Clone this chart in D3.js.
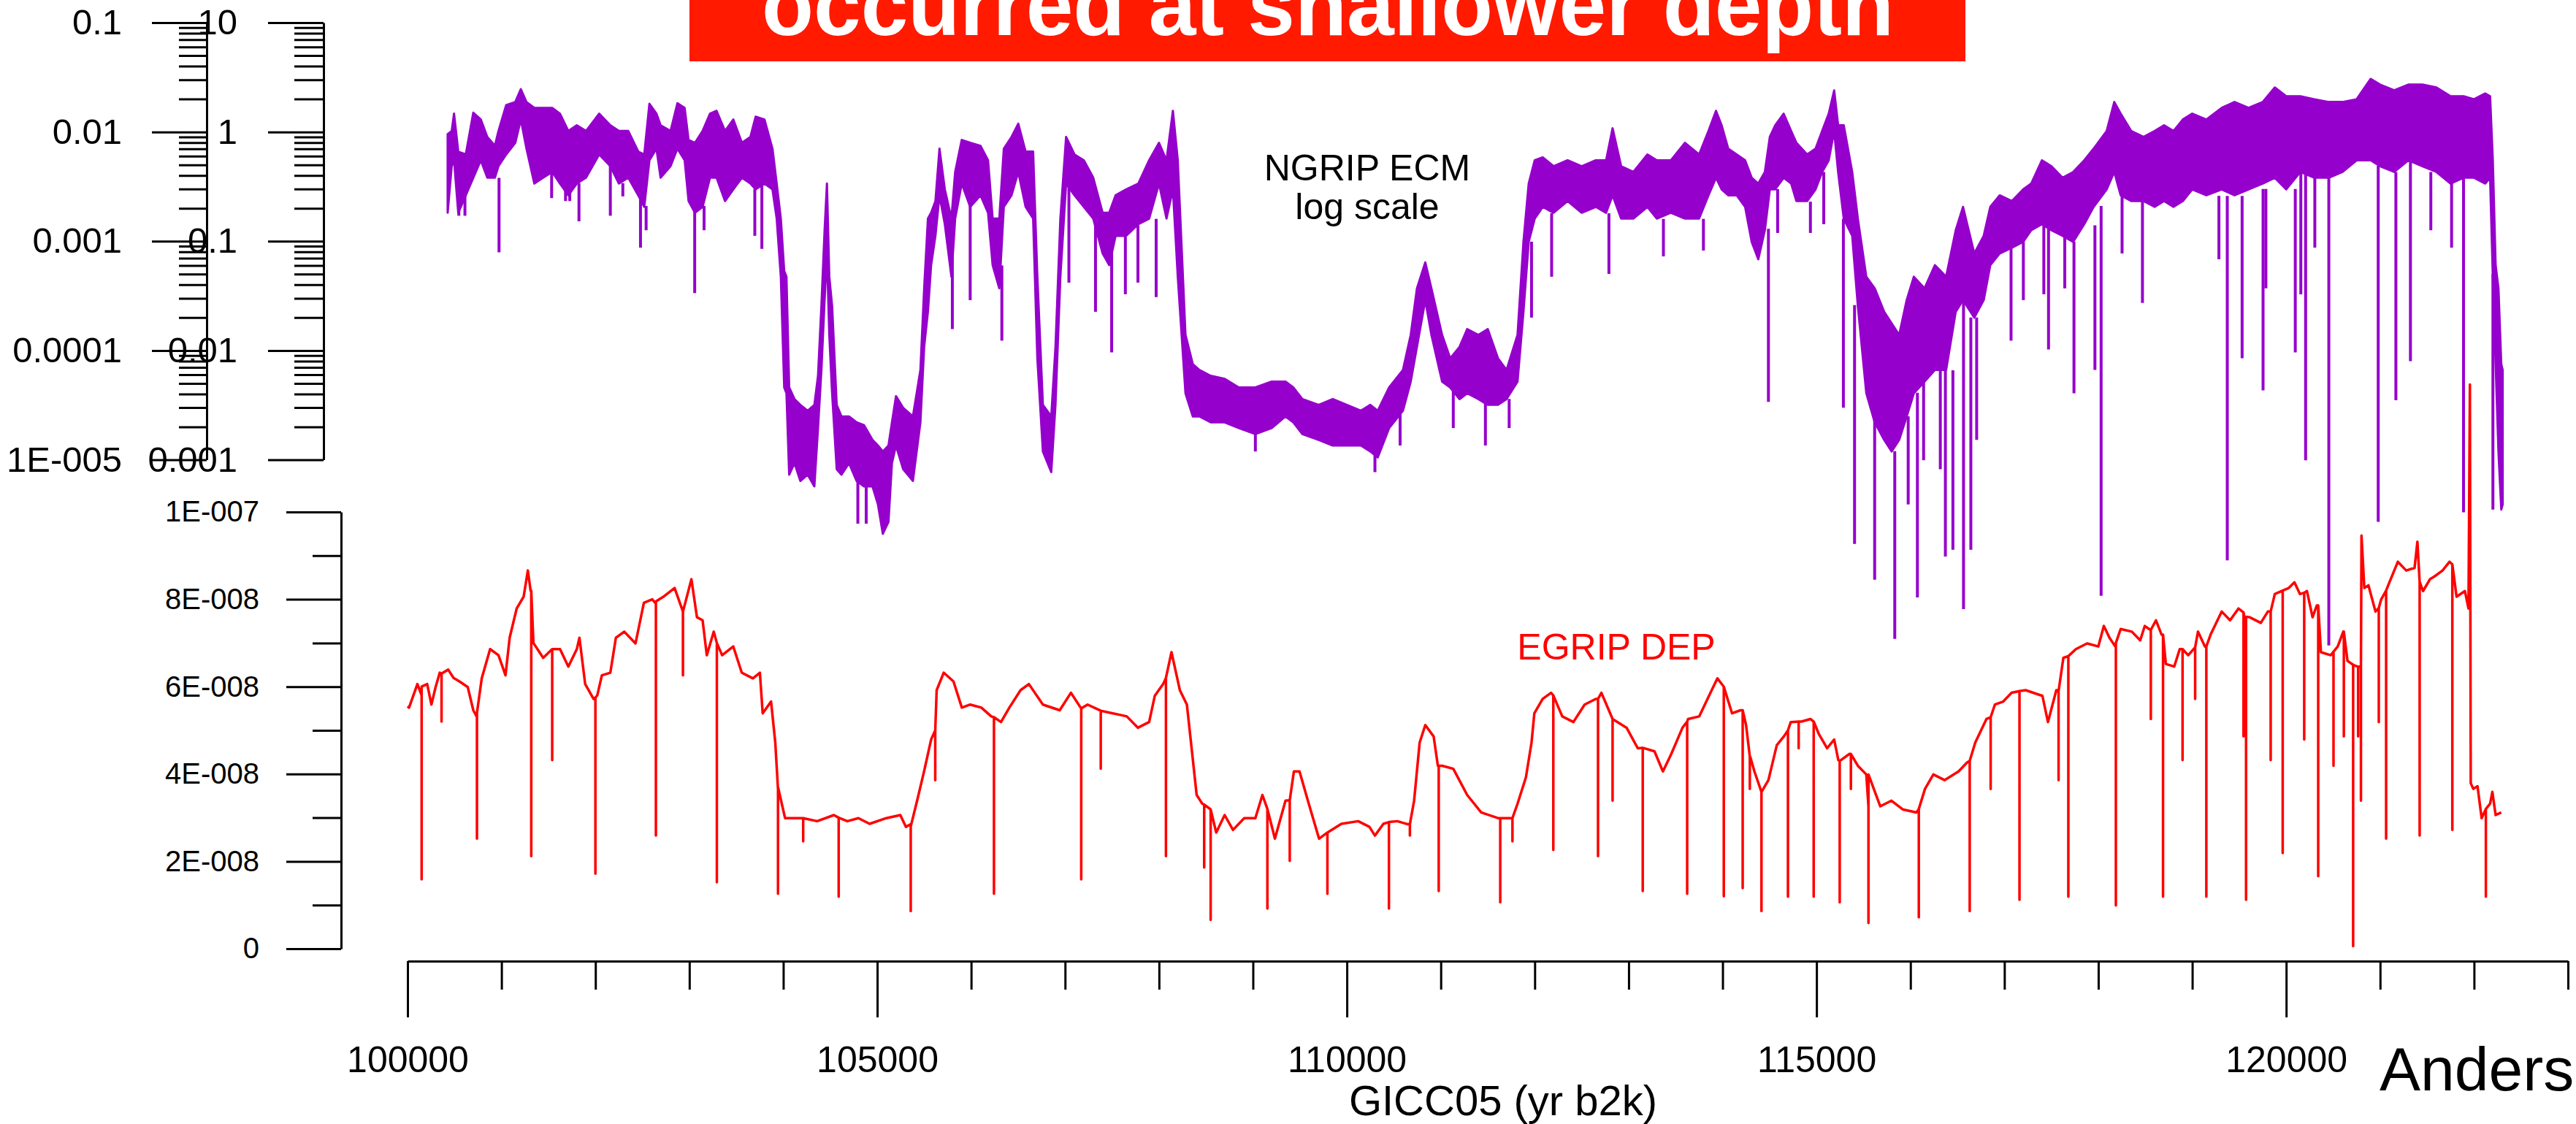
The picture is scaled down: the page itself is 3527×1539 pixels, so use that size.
<!DOCTYPE html>
<html>
<head>
<meta charset="utf-8">
<script src="https://cdn.jsdelivr.net/npm/d3@7/dist/d3.min.js"></script>
<style>
html,body{margin:0;padding:0;background:#fff;overflow:hidden}
svg{display:block}
text{font-family:"Liberation Sans",Arial,Helvetica,sans-serif}
</style>
</head>
<body>
<svg id="chart" width="3527" height="1539"></svg>
<script>
// ---------------- DATA ----------------
// x axis (GICC05, yr b2k)
const xMajorTicks = [100000, 105000, 110000, 115000, 120000];
const xTickLabels = ["100000", "105000", "110000", "115000", "120000"];

// NGRIP ECM log axes (two stacked label sets)
const ecmLeftTicks = [1e-5, 1e-4, 1e-3, 1e-2, 1e-1];
const ecmLeftLabels = ["1E-005", "0.0001", "0.001", "0.01", "0.1"];
const ecmRightTicks = [0.001, 0.01, 0.1, 1, 10];
const ecmRightLabels = ["0.001", "0.01", "0.1", "1", "10"];

// EGRIP DEP axis
const depTicks = [0, 2e-8, 4e-8, 6e-8, 8e-8, 1e-7];
const depTickLabels = ["0", "2E-008", "4E-008", "6E-008", "8E-008", "1E-007"];

// NGRIP ECM: [year, upper envelope, lower envelope] of the noisy record
const ecmBand = [
[100427,0.955,0.182],[100470,1.02,0.486],[100495,1.47,0.55],[100540,0.661,0.182],[100620,0.622,0.263],
[100700,1.50,0.381],[100780,1.30,0.55],[100849,0.90,0.381],[100930,0.747,0.381],[100968,1.02,0.486],
[101050,1.76,0.622],[101147,1.88,0.795],[101206,2.46,1.30],[101266,1.88,0.703],[101350,1.66,0.337],
[101444,1.66,0.381],[101540,1.66,0.43],[101623,1.47,0.337],[101712,1.02,0.263],[101802,1.15,0.337],
[101900,1.02,0.381],[102040,1.47,0.622],[102159,1.15,0.486],[102250,1.02,0.337],[102350,1.02,0.381],
[102456,0.661,0.263],[102520,0.622,0.206],[102575,1.81,0.55],[102650,1.47,0.703],[102694,1.15,0.381],
[102800,1.02,0.486],[102873,1.83,0.703],[102950,1.66,0.55],[102992,0.845,0.233],[103060,0.795,0.182],
[103141,1.02,0.206],[103220,1.47,0.381],[103290,1.56,0.381],[103380,1.02,0.233],[103468,1.30,0.298],
[103560,0.795,0.381],[103650,0.90,0.337],[103706,1.38,0.298],[103800,1.30,0.337],[103885,0.703,0.298],
[103930,0.337,0.161],[103974,0.161,0.0473],[104010,0.0534,0.00459],[104034,0.0473,0.00406],[104063,0.00459,0.00073],
[104120,0.00359,0.00093],[104182,0.00318,0.00064],[104260,0.00281,0.00073],[104331,0.00318,0.00057],[104370,0.00587,0.00195],
[104406,0.0256,0.00663],[104440,0.126,0.0289],[104465,0.337,0.0772],[104490,0.0473,0.0139],[104520,0.0256,0.00406],
[104569,0.00318,0.00082],[104620,0.00249,0.00073],[104700,0.00249,0.00093],[104780,0.00220,0.00064],[104860,0.00207,0.00057],
[104950,0.00152,0.00057],[105008,0.00135,0.00039],[105060,0.00119,0.00021],[105120,0.00135,0.00027],[105157,0.00220,0.00093],
[105200,0.00382,0.00135],[105276,0.00299,0.00082],[105380,0.00249,0.00064],[105460,0.00663,0.00220],[105500,0.037,0.0108],
[105540,0.161,0.0226],[105574,0.182,0.0604],[105620,0.233,0.112],[105663,0.703,0.263],[105720,0.298,0.143],
[105790,0.161,0.0473],[105830,0.43,0.161],[105900,0.845,0.337],[105990,0.795,0.206],[106100,0.747,0.263],
[106180,0.55,0.182],[106229,0.161,0.0604],[106300,0.161,0.037],[106348,0.703,0.206],[106430,0.90,0.263],
[106502,1.19,0.43],[106580,0.661,0.206],[106660,0.661,0.161],[106705,0.0473,0.00848],[106764,0.00318,0.00119],
[106853,0.00249,0.00077],[106898,0.0108,0.00318],[106950,0.161,0.0473],[107011,0.90,0.337],[107100,0.622,0.263],
[107200,0.55,0.206],[107300,0.381,0.161],[107400,0.182,0.0772],[107470,0.182,0.0604],[107538,0.263,0.112],
[107650,0.298,0.112],[107780,0.337,0.143],[107895,0.55,0.161],[108000,0.795,0.337],[108080,0.55,0.161],
[108148,1.56,0.298],[108200,0.55,0.0473],[108282,0.0139,0.00406],[108360,0.0075,0.00249],[108431,0.00663,0.00249],
[108550,0.00587,0.0022],[108700,0.0055,0.0022],[108850,0.00459,0.00195],[109026,0.00459,0.00172],[109200,0.00519,0.00195],
[109347,0.00519,0.00249],[109430,0.00459,0.0022],[109526,0.00359,0.00172],[109700,0.00318,0.00152],[109850,0.00359,0.00135],
[110000,0.00318,0.00135],[110150,0.00281,0.00135],[110250,0.00318,0.00119],[110329,0.00281,0.00105],[110450,0.00459,0.00195],
[110597,0.00663,0.00281],[110680,0.0139,0.00519],[110746,0.037,0.0108],[110835,0.064,0.0289],[110900,0.037,0.0139],
[111014,0.0139,0.00519],[111100,0.00848,0.00459],[111200,0.0108,0.00359],[111281,0.0157,0.00406],[111400,0.0139,0.00359],
[111500,0.0157,0.00318],[111609,0.00848,0.00318],[111700,0.00663,0.00359],[111817,0.0139,0.00519],[111880,0.0987,0.0226],
[111936,0.337,0.0987],[112000,0.55,0.161],[112085,0.585,0.206],[112200,0.486,0.182],[112350,0.55,0.233],
[112500,0.486,0.182],[112650,0.55,0.206],[112760,0.55,0.182],[112829,1.08,0.263],[112920,0.486,0.161],
[113050,0.43,0.161],[113200,0.622,0.206],[113300,0.55,0.161],[113450,0.55,0.182],[113600,0.795,0.161],
[113750,0.622,0.161],[113850,1.02,0.263],[113930,1.56,0.381],[113990,1.15,0.298],[114060,0.703,0.263],
[114150,0.622,0.263],[114240,0.55,0.206],[114310,0.381,0.0987],[114380,0.337,0.0683],[114450,0.43,0.126],
[114503,0.90,0.298],[114560,1.15,0.298],[114650,1.47,0.381],[114730,1.02,0.337],[114786,0.795,0.233],
[114900,0.622,0.233],[114990,0.703,0.298],[115060,1.02,0.43],[115130,1.47,0.55],[115188,2.40,1.02],
[115230,1.15,0.43],[115290,1.15,0.161],[115380,0.43,0.112],[115440,0.161,0.0256],[115530,0.0473,0.00406],
[115620,0.037,0.0022],[115720,0.0226,0.00152],[115800,0.0177,0.00119],[115880,0.0139,0.00152],[115960,0.0289,0.00249],
[116036,0.0473,0.00406],[116150,0.037,0.00519],[116260,0.0604,0.00663],[116380,0.0473,0.00663],[116482,0.126,0.0226],
[116560,0.206,0.0289],[116680,0.0772,0.02],[116780,0.112,0.0289],[116850,0.206,0.0604],[116950,0.263,0.0772],
[117080,0.233,0.0873],[117200,0.298,0.0987],[117286,0.337,0.126],[117400,0.55,0.143],[117500,0.486,0.126],
[117620,0.381,0.112],[117732,0.43,0.0987],[117850,0.55,0.143],[117950,0.703,0.206],[118089,1.02,0.298],
[118170,1.88,0.43],[118238,1.47,0.263],[118350,1.02,0.233],[118480,0.90,0.233],[118600,1.02,0.206],
[118700,1.15,0.233],[118800,1.02,0.206],[118900,1.30,0.233],[119000,1.47,0.298],[119150,1.30,0.263],
[119314,1.66,0.298],[119450,1.88,0.263],[119600,1.66,0.298],[119750,1.88,0.337],[119879,2.55,0.381],
[120000,2.12,0.298],[120150,2.12,0.43],[120300,1.99,0.381],[120454,1.88,0.381],[120600,1.88,0.43],
[120750,1.99,0.55],[120900,3.06,0.55],[121000,2.71,0.486],[121150,2.40,0.43],[121300,2.71,0.55],
[121450,2.71,0.486],[121600,2.55,0.43],[121750,2.12,0.337],[121888,2.12,0.381],[122000,1.99,0.381],
[122120,2.25,0.337],[122171,2.12,0.381],[122200,0.55,0.0473],[122230,0.0604,0.0075],[122260,0.037,0.00119],
[122290,0.0075,0.00035],[122305,0.00663,0.00039]
];

// NGRIP ECM downward spikes: [year, top, bottom]
const ecmSpikes = [
[100546,0.30,0.171],[100611,0.30,0.171],[100974,0.38,0.0791],[101534,0.43,0.248],[101682,0.34,0.233],
[101727,0.30,0.233],[101825,0.34,0.152],[102159,0.49,0.171],[102292,0.34,0.257],[102480,0.26,0.0873],
[102540,0.21,0.126],[103057,0.23,0.0335],[103157,0.21,0.126],[103697,0.30,0.112],[103772,0.34,0.0851],
[104794,0.00064,0.00026],[104883,0.00057,0.00026],[105800,0.10,0.0157],[105990,0.21,0.0289],[106327,0.06,0.0123],
[107041,0.34,0.0418],[107324,0.16,0.0226],[107496,0.11,0.00959],[107642,0.11,0.0327],[107776,0.14,0.0418],
[107970,0.16,0.0308],[109026,0.0017,0.00119],[110299,0.0012,0.00077],[110567,0.0028,0.00135],[111133,0.0046,0.00195],
[111475,0.0036,0.00135],[111728,0.0036,0.00195],[111966,0.099,0.020],[112180,0.18,0.0473],[112790,0.18,0.0502],
[113370,0.16,0.0726],[113796,0.16,0.0821],[114488,0.13,0.00338],[114586,0.30,0.119],[114935,0.23,0.119],
[115077,0.43,0.143],[115286,0.16,0.00299],[115405,0.026,0.00017],[115619,0.0041,0.00008],[115833,0.0012,0.000023],
[115976,0.0025,0.00039],[116074,0.0041,0.000055],[116140,0.0052,0.00099],[116318,0.0066,0.00082],[116372,0.0066,0.00013],
[116452,0.0066,0.00015],[116565,0.029,0.000043],[116643,0.02,0.00015],[116705,0.02,0.00152],[117071,0.087,0.0123],
[117202,0.099,0.0289],[117420,0.14,0.0327],[117470,0.13,0.0102],[117643,0.11,0.037],[117741,0.099,0.00406],
[117964,0.14,0.00663],[118030,0.21,0.000057],[118253,0.26,0.0772],[118470,0.23,0.0272],[119284,0.26,0.0683],
[119373,0.26,0.00012],[119531,0.26,0.00848],[119754,0.30,0.00432],[119784,0.30,0.037],[120097,0.30,0.00959],
[120156,0.43,0.0327],[120207,0.43,0.00099],[120305,0.38,0.0873],[120454,0.38,0.000020],[120980,0.49,0.00027],
[121168,0.43,0.0035],[121323,0.55,0.00797],[121540,0.43,0.126],[121761,0.34,0.0873],[121888,0.38,0.00033],
[122201,0.05,0.00035]
];

// EGRIP DEP record: [year, value]
const depLine = [
[100000,5.55e-8],[100016,5.52e-8],[100105,6.06e-8],[100150,5.8e-8],[100209,6.06e-8],[100254,5.59e-8],[100300,6.0e-8],
[100343,6.32e-8],[100433,6.39e-8],[100490,6.2e-8],[100552,6.12e-8],[100641,5.99e-8],[100700,5.46e-8],[100739,5.3e-8],
[100790,6.19e-8],[100879,6.86e-8],[100968,6.72e-8],[101043,6.26e-8],[101087,7.12e-8],[101162,7.79e-8],[101236,8.06e-8],
[101281,8.66e-8],[101310,8.2e-8],[101340,7.0e-8],[101444,6.66e-8],[101540,6.86e-8],[101623,6.86e-8],[101712,6.46e-8],
[101802,6.86e-8],[101830,7.12e-8],[101891,6.06e-8],[101980,5.72e-8],[102020,5.8e-8],[102069,6.26e-8],[102159,6.32e-8],
[102218,7.12e-8],[102307,7.26e-8],[102427,6.99e-8],[102516,7.92e-8],[102605,8.0e-8],[102644,7.9e-8],[102724,8.06e-8],
[102843,8.26e-8],[102932,7.72e-8],[103022,8.46e-8],[103081,7.59e-8],[103141,7.52e-8],[103186,6.72e-8],[103260,7.26e-8],
[103293,7.0e-8],[103349,6.72e-8],[103468,6.92e-8],[103558,6.32e-8],[103677,6.19e-8],[103751,6.32e-8],[103781,5.39e-8],
[103870,5.66e-8],[103915,4.72e-8],[103944,3.65e-8],[104019,2.99e-8],[104182,2.99e-8],[104361,2.92e-8],[104539,3.06e-8],
[104682,2.92e-8],[104800,2.99e-8],[104919,2.86e-8],[105098,2.99e-8],[105246,3.06e-8],[105306,2.79e-8],[105357,2.85e-8],
[105425,3.39e-8],[105499,4.06e-8],[105574,4.79e-8],[105633,5.92e-8],[105708,6.32e-8],[105812,6.12e-8],[105901,5.52e-8],
[105990,5.59e-8],[106109,5.52e-8],[106214,5.32e-8],[106318,5.19e-8],[106407,5.52e-8],[106526,5.92e-8],[106615,6.06e-8],
[106764,5.59e-8],[106943,5.46e-8],[107062,5.86e-8],[107172,5.5e-8],[107240,5.59e-8],[107380,5.45e-8],[107508,5.39e-8],
[107657,5.32e-8],[107776,5.06e-8],[107895,5.19e-8],[107955,5.79e-8],[108044,6.06e-8],[108133,6.79e-8],[108222,5.92e-8],
[108297,5.59e-8],[108401,3.52e-8],[108461,3.32e-8],[108550,3.19e-8],[108609,2.66e-8],[108699,3.06e-8],[108788,2.72e-8],
[108907,2.99e-8],[109026,2.99e-8],[109101,3.52e-8],[109154,3.2e-8],[109234,2.52e-8],[109347,3.39e-8],[109436,4.06e-8],
[109496,4.06e-8],[109585,3.39e-8],[109704,2.52e-8],[109793,2.66e-8],[109942,2.86e-8],[110121,2.92e-8],[110240,2.79e-8],
[110299,2.59e-8],[110389,2.86e-8],[110537,2.92e-8],[110650,2.85e-8],[110716,3.39e-8],[110775,4.72e-8],[110835,5.12e-8],
[110924,4.86e-8],[110969,4.19e-8],[111014,4.19e-8],[111133,4.12e-8],[111281,3.52e-8],[111430,3.12e-8],[111609,2.99e-8],
[111728,2.99e-8],[111817,3.32e-8],[111906,3.92e-8],[111966,4.72e-8],[111996,5.39e-8],[112085,5.72e-8],[112174,5.86e-8],
[112293,5.32e-8],[112412,5.19e-8],[112531,5.59e-8],[112650,5.72e-8],[112710,5.86e-8],[112829,5.26e-8],[112978,5.06e-8],
[113097,4.59e-8],[113150,4.6e-8],[113275,4.52e-8],[113365,4.06e-8],[113454,4.46e-8],[113573,5.06e-8],[113633,5.26e-8],
[113752,5.32e-8],[113871,5.86e-8],[113945,6.19e-8],[114013,6.0e-8],[114101,5.39e-8],[114191,5.46e-8],[114250,5.12e-8],
[114295,4.39e-8],[114339,4.06e-8],[114414,3.59e-8],[114488,3.86e-8],[114577,4.66e-8],[114652,4.86e-8],[114726,5.19e-8],
[114840,5.2e-8],[114935,5.26e-8],[115024,4.92e-8],[115113,4.59e-8],[115188,4.79e-8],[115232,4.32e-8],[115351,4.46e-8],
[115440,4.19e-8],[115530,3.99e-8],[115553,3.26e-8],[115679,3.26e-8],[115798,3.39e-8],[115917,3.19e-8],[116065,3.12e-8],
[116155,3.66e-8],[116244,3.99e-8],[116363,3.86e-8],[116512,4.06e-8],[116601,4.26e-8],[116690,4.72e-8],[116809,5.26e-8],
[116899,5.59e-8],[116988,5.66e-8],[117077,5.86e-8],[117226,5.92e-8],[117405,5.79e-8],[117464,5.19e-8],[117553,5.92e-8],
[117628,6.66e-8],[117762,6.86e-8],[117881,6.99e-8],[118000,6.92e-8],[118059,7.39e-8],[118119,7.12e-8],[118187,6.9e-8],
[118238,7.32e-8],[118357,7.26e-8],[118446,7.06e-8],[118495,7.39e-8],[118555,7.3e-8],[118614,7.52e-8],[118674,7.19e-8],
[118719,6.52e-8],[118808,6.46e-8],[118867,6.86e-8],[118957,6.72e-8],[119061,7.26e-8],[119135,6.92e-8],[119195,7.19e-8],
[119314,7.72e-8],[119403,7.52e-8],[119492,7.79e-8],[119573,7.4e-8],[119611,7.59e-8],[119730,7.46e-8],[119805,7.72e-8],
[119879,8.12e-8],[120028,8.26e-8],[120088,8.39e-8],[120147,8.12e-8],[120221,8.19e-8],[120281,7.59e-8],[120326,7.86e-8],
[120370,6.79e-8],[120474,6.72e-8],[120549,6.92e-8],[120608,7.26e-8],[120653,6.59e-8],[120713,6.5e-8],[120757,6.46e-8],
[120802,9.46e-8],[120832,8.26e-8],[120876,8.32e-8],[120951,7.72e-8],[121010,7.99e-8],[121099,8.39e-8],[121189,8.86e-8],
[121278,8.66e-8],[121367,8.72e-8],[121397,9.32e-8],[121457,8.19e-8],[121531,8.46e-8],[121576,8.52e-8],[121665,8.66e-8],
[121739,8.86e-8],[121814,8.06e-8],[121903,8.19e-8],[121941,7.79e-8],[121956,12.92e-8],[121965,3.79e-8],[121992,3.66e-8],
[122037,3.72e-8],[122081,2.99e-8],[122171,3.32e-8],[122195,3.59e-8],[122230,3.06e-8],[122290,3.12e-8]
];

// EGRIP DEP downward spikes: [year, top, bottom]
const depSpikes = [
[100150,6.0e-8,1.59e-8],[100362,6.3e-8,5.2e-8],[100739,5.4e-8,2.52e-8],[101317,8.2e-8,2.12e-8],[101540,6.86e-8,4.32e-8],
[102000,5.75e-8,1.72e-8],[102644,7.95e-8,2.59e-8],[102932,7.72e-8,6.26e-8],[103293,7.0e-8,1.52e-8],[103944,3.7e-8,1.26e-8],
[104212,2.99e-8,2.46e-8],[104590,3.0e-8,1.19e-8],[105357,2.8e-8,0.86e-8],[105618,5.0e-8,3.86e-8],[106243,5.3e-8,1.26e-8],
[107172,5.5e-8,1.59e-8],[107380,5.45e-8,4.12e-8],[108074,6.2e-8,2.12e-8],[108481,3.3e-8,1.86e-8],[108550,3.19e-8,0.66e-8],
[109154,3.2e-8,0.92e-8],[109392,3.4e-8,2.01e-8],[109793,2.66e-8,1.26e-8],[110448,2.9e-8,0.92e-8],[110671,2.85e-8,2.59e-8],
[110978,4.19e-8,1.32e-8],[111633,2.99e-8,1.06e-8],[111763,2.99e-8,2.46e-8],[112198,5.8e-8,2.26e-8],[112674,5.72e-8,2.12e-8],
[112829,5.26e-8,3.39e-8],[113150,4.6e-8,1.32e-8],[113623,5.2e-8,1.26e-8],[114013,6.0e-8,1.2e-8],[114214,5.46e-8,1.39e-8],
[114290,4.4e-8,3.66e-8],[114414,3.59e-8,0.86e-8],[114696,5.0e-8,1.19e-8],[114810,5.2e-8,4.59e-8],[114970,5.2e-8,1.19e-8],
[115247,4.3e-8,1.06e-8],[115366,4.46e-8,3.66e-8],[115553,3.99e-8,0.59e-8],[116089,3.2e-8,0.72e-8],[116631,4.3e-8,0.86e-8],
[116854,5.3e-8,3.66e-8],[117161,5.9e-8,1.12e-8],[117577,5.9e-8,3.86e-8],[117681,6.7e-8,1.19e-8],[118187,7.0e-8,0.99e-8],
[118559,7.3e-8,5.26e-8],[118689,7.19e-8,1.19e-8],[118897,6.86e-8,4.32e-8],[119031,6.9e-8,5.72e-8],[119150,6.92e-8,1.19e-8],
[119546,7.7e-8,4.86e-8],[119573,7.6e-8,1.12e-8],[119835,7.72e-8,4.32e-8],[119963,8.2e-8,2.19e-8],[120192,8.15e-8,4.79e-8],
[120341,7.86e-8,1.66e-8],[120504,6.8e-8,4.19e-8],[120614,7.26e-8,4.86e-8],[120713,6.5e-8,0.06e-8],[120766,6.46e-8,4.86e-8],
[120796,6.46e-8,3.39e-8],[120986,7.8e-8,5.19e-8],[121064,8.2e-8,2.52e-8],[121421,8.4e-8,2.59e-8],[121769,8.8e-8,2.72e-8],
[122126,3.2e-8,1.19e-8]
];

// ---------------- DRAWING ----------------
const svg = d3.select("#chart");
const FONT = '"Liberation Sans", Arial, Helvetica, sans-serif';
const ECM_COLOR = "#9600cc";
const DEP_COLOR = "#ff0000";

const x = d3.scaleLinear().domain([100000, 123000]).range([558, 3516]);
const yEcmLeft = d3.scaleLog().domain([1e-5, 0.1]).range([629.5, 31]);
const yEcm = d3.scaleLog().domain([0.001, 10]).range([629.5, 31]);
const yDep = d3.scaleLinear().domain([0, 1e-7]).range([1299, 701]);

function styleAxis(g, fontSize) {
  g.selectAll("path.domain").attr("stroke", "#000").attr("stroke-width", 3);
  g.selectAll(".tick line").attr("stroke", "#000").attr("stroke-width", 3);
  g.selectAll(".tick text").attr("fill", "#000").style("font-family", FONT).style("font-size", fontSize + "px");
}
function minorOnly(g) {
  g.select("path.domain").remove();
  g.selectAll(".tick line").attr("stroke", "#000").attr("stroke-width", 3);
}

// ---- ECM log axis 1 (left labels) ----
const leftMinor = yEcmLeft.ticks().filter(v => !ecmLeftTicks.some(t => Math.abs(Math.log10(v) - Math.log10(t)) < 1e-6));
svg.append("g").attr("transform", "translate(283,0)")
  .call(d3.axisLeft(yEcmLeft).tickValues(leftMinor).tickSize(38).tickSizeOuter(0).tickFormat(""))
  .call(minorOnly);
svg.append("g").attr("transform", "translate(283,0)")
  .call(d3.axisLeft(yEcmLeft).tickValues(ecmLeftTicks).tickSize(75).tickSizeOuter(0).tickPadding(41)
    .tickFormat((d, i) => ecmLeftLabels[i]))
  .call(g => styleAxis(g, 49));

// ---- ECM log axis 2 ----
const rightMinor = yEcm.ticks().filter(v => !ecmRightTicks.some(t => Math.abs(Math.log10(v) - Math.log10(t)) < 1e-6));
svg.append("g").attr("transform", "translate(443,0)")
  .call(d3.axisLeft(yEcm).tickValues(rightMinor).tickSize(40).tickSizeOuter(0).tickFormat(""))
  .call(minorOnly);
svg.append("g").attr("transform", "translate(443,0)")
  .call(d3.axisLeft(yEcm).tickValues(ecmRightTicks).tickSize(76).tickSizeOuter(0).tickPadding(42)
    .tickFormat((d, i) => ecmRightLabels[i]))
  .call(g => styleAxis(g, 49));

// ---- DEP axis ----
const depMinor = [1e-8, 3e-8, 5e-8, 7e-8, 9e-8];
svg.append("g").attr("transform", "translate(467,0)")
  .call(d3.axisLeft(yDep).tickValues(depMinor).tickSize(39).tickSizeOuter(0).tickFormat(""))
  .call(minorOnly);
svg.append("g").attr("transform", "translate(467,0)")
  .call(d3.axisLeft(yDep).tickValues(depTicks).tickSize(75).tickSizeOuter(0).tickPadding(37)
    .tickFormat((d, i) => depTickLabels[i]))
  .call(g => styleAxis(g, 40));

// ---- X axis ----
const xMinor = d3.range(101000, 123001, 1000).filter(v => v % 5000 !== 0);
svg.append("g").attr("transform", "translate(0,1316)")
  .call(d3.axisBottom(x).tickValues(xMinor).tickSize(39).tickSizeOuter(0).tickFormat(""))
  .call(minorOnly);
svg.append("g").attr("transform", "translate(0,1316)")
  .call(d3.axisBottom(x).tickValues(xMajorTicks).tickSize(77).tickSizeOuter(0).tickPadding(39)
    .tickFormat((d, i) => xTickLabels[i]))
  .call(g => styleAxis(g, 50));

svg.append("text").attr("x", 2058).attr("y", 1527).attr("text-anchor", "middle")
  .style("font-family", FONT).style("font-size", "58px").text("GICC05 (yr b2k)");

// ---- ECM series ----
const ecmArea = d3.area()
  .x(d => x(d[0]))
  .y0(d => yEcm(d[2]))
  .y1(d => yEcm(d[1]));
svg.append("path").datum(ecmBand).attr("d", ecmArea)
  .attr("fill", ECM_COLOR).attr("stroke", ECM_COLOR).attr("stroke-width", 3).attr("stroke-linejoin", "round");
svg.append("g").selectAll("line").data(ecmSpikes).join("line")
  .attr("x1", d => x(d[0])).attr("x2", d => x(d[0]))
  .attr("y1", d => yEcm(d[1])).attr("y2", d => yEcm(d[2]))
  .attr("stroke", ECM_COLOR).attr("stroke-width", 4);

// ---- DEP series (line with spikes merged in time order) ----
const depPts = depLine.map(d => [d[0], d[1]]);
depSpikes.forEach(s => { depPts.push([s[0], s[1]], [s[0], s[2]], [s[0], s[1]]); });
depPts.sort((a, b) => a[0] - b[0]);
svg.append("path").datum(depPts)
  .attr("d", d3.line().x(d => x(d[0])).y(d => yDep(d[1])))
  .attr("fill", "none").attr("stroke", DEP_COLOR).attr("stroke-width", 3.5).attr("stroke-linejoin", "round");

// ---- Labels ----
svg.append("text").attr("x", 1872).attr("y", 247).attr("text-anchor", "middle")
  .style("font-family", FONT).style("font-size", "50px").attr("fill", "#000").text("NGRIP ECM");
svg.append("text").attr("x", 1872).attr("y", 300).attr("text-anchor", "middle")
  .style("font-family", FONT).style("font-size", "50px").attr("fill", "#000").text("log scale");
svg.append("text").attr("x", 2213).attr("y", 903).attr("text-anchor", "middle")
  .style("font-family", FONT).style("font-size", "50px").attr("fill", DEP_COLOR).text("EGRIP DEP");

// ---- Banner ----
svg.append("rect").attr("x", 944).attr("y", 0).attr("width", 1747).attr("height", 84).attr("fill", "#ff1a00");
svg.append("text").attr("x", 1818).attr("y", 48).attr("text-anchor", "middle")
  .attr("textLength", 1550).attr("lengthAdjust", "spacingAndGlyphs")
  .style("font-family", FONT).style("font-weight", "bold").style("font-size", "118px")
  .attr("fill", "#fff").text("occurred at shallower depth");

// ---- Credit ----
svg.append("text").attr("x", 3258).attr("y", 1493)
  .style("font-family", FONT).style("font-size", "84px").attr("fill", "#000").text("Anders");
</script>
</body>
</html>
